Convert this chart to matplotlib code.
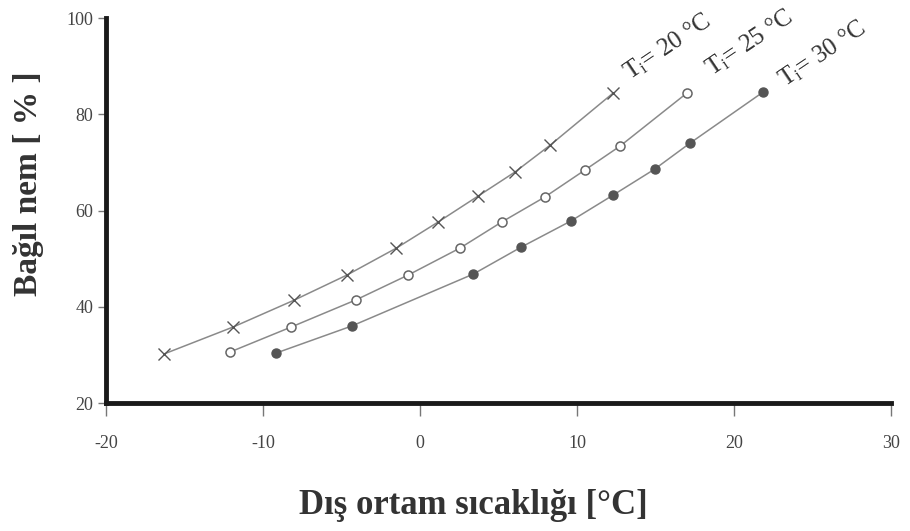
import matplotlib
matplotlib.use("Agg")
import matplotlib.pyplot as plt

# Data
t20_x = [-16.3, -11.9, -8.0, -4.65, -1.5, 1.15, 3.7, 6.05, 8.3, 12.3]
t20_y = [30.2, 35.8, 41.4, 46.6, 52.2, 57.6, 63.0, 68.0, 73.6, 84.4]

t25_x = [-12.1, -8.2, -4.1, -0.75, 2.55, 5.2, 7.95, 10.5, 12.75, 17.0]
t25_y = [30.6, 35.8, 41.4, 46.6, 52.2, 57.6, 62.8, 68.4, 73.4, 84.4]

t30_x = [-9.15, -4.35, 3.4, 6.45, 9.6, 12.3, 14.95, 17.2, 21.85]
t30_y = [30.4, 36.0, 46.8, 52.4, 57.8, 63.2, 68.6, 74.0, 84.6]

labels = ["T$_\\mathrm{i}$= 20 °C", "T$_\\mathrm{i}$= 25 °C", "T$_\\mathrm{i}$= 30 °C"]
x_ticks = [-20, -10, 0, 10, 20, 30]
y_ticks = [20, 40, 60, 80, 100]

plt.rcParams['font.family'] = ['Liberation Serif', 'DejaVu Serif']
plt.rcParams['mathtext.fontset'] = 'custom'
plt.rcParams['mathtext.rm'] = 'Liberation Serif'
plt.rcParams['mathtext.it'] = 'Liberation Serif:italic'
plt.rcParams['axes.unicode_minus'] = False

fig = plt.figure(figsize=(9.10, 5.31), dpi=100)
ax = fig.add_axes([0.1165, 0.241, 0.8625, 0.725])

lc = '#8a8a8a'
ax.plot(t20_x, t20_y, color=lc, lw=1.1, marker='x', ms=8, mec='#555555', mew=1.0)
ax.plot(t25_x, t25_y, color=lc, lw=1.1, marker='o', ms=6.5, mfc='white', mec='#666666', mew=1.1)
ax.plot(t30_x, t30_y, color=lc, lw=1.1, marker='o', ms=6.5, mfc='#555555', mec='#555555')

ax.set_xlim(-20, 30)
ax.set_ylim(20, 100)
ax.set_xticks(x_ticks)
ax.set_yticks(y_ticks)

for s in ['top', 'right']:
    ax.spines[s].set_visible(False)
for s in ['left', 'bottom']:
    ax.spines[s].set_linewidth(3.5)
    ax.spines[s].set_color('#1a1a1a')

ax.tick_params(axis='x', direction='out', length=9, width=1, color='#777777', pad=14,
               labelsize=13, labelcolor='#444444')
ax.tick_params(axis='y', direction='out', length=6, width=1, color='#777777', pad=3,
               labelsize=13, labelcolor='#444444')

ax.set_xlabel("Dış ortam sıcaklığı [°C]", fontsize=25, fontweight='bold', color='#333333')
ax.xaxis.label.set_va('center')
ax.xaxis.set_label_coords(0.4675, -0.265)
ax.set_ylabel("Bağıl nem [ % ]", fontsize=24, fontweight='bold', color='#333333')
ax.yaxis.label.set_va('center')
ax.yaxis.set_label_coords(-0.099, 0.569)

# rotated curve labels next to curve ends
offsets = [(1.3, 1.6), (1.8, 2.6), (1.6, 0.0)]
ends = [(t20_x[-1], t20_y[-1]), (t25_x[-1], t25_y[-1]), (t30_x[-1], t30_y[-1])]
for (ex, ey), (dx, dy), lab in zip(ends, offsets, labels):
    ax.text(ex + dx, ey + dy, lab, rotation=34, rotation_mode='anchor',
            ha='left', va='bottom', fontsize=18, color='#333333', clip_on=False)

fig.savefig("out.png", dpi=100)
